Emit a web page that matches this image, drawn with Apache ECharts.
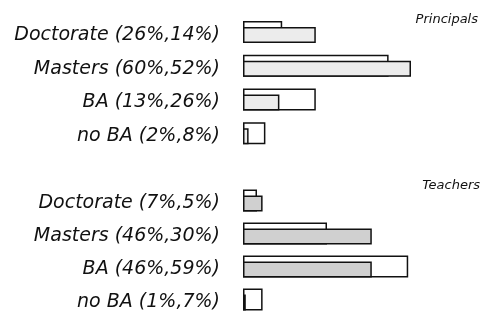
<!DOCTYPE html>
<html><head><meta charset="utf-8">
<script src="https://cdn.jsdelivr.net/npm/echarts@6/dist/echarts.min.js"></script>
<style>html,body{margin:0;padding:0;background:#fff}#c{width:501px;height:320px}</style>
</head><body><div id="c"></div>
<script>
const categories = ['Doctorate', 'Masters', 'BA', 'no BA'];
const principalsFirst = [26, 60, 13, 2];
const principalsSecond = [14, 52, 26, 8];
const teachersFirst = [7, 46, 46, 1];
const teachersSecond = [5, 30, 59, 7];
const panelTitles = ['Principals', 'Teachers'];

const FONT = '"DejaVu Sans"';
function labels(a, b) {
  return categories.map((c, i) => c + ' (' + a[i] + '%,' + b[i] + '%)');
}
const grids = [
  { left: 243, right: 34, top: 18, height: 135 },
  { left: 243, right: 34, top: 187, height: 132 }
];
const sets = [[principalsFirst, principalsSecond, '#ececec'], [teachersFirst, teachersSecond, '#d0d0d0']];
const xAxis = [], yAxis = [], series = [];
const WA = 16, WB = 22;
sets.forEach((s, k) => {
  xAxis.push({ gridIndex: k, type: 'value', min: 0, max: 80, show: false });
  yAxis.push({
    gridIndex: k, type: 'category', inverse: true, data: labels(s[0], s[1]),
    axisLine: { show: false }, axisTick: { show: false },
    axisLabel: { margin: 23, color: '#111', fontFamily: FONT, fontStyle: 'italic', fontSize: 19, padding: [0, 0, 8, 0] }
  });
  series.push({
    type: 'bar', xAxisIndex: k, yAxisIndex: k, data: s[0], barWidth: WA, barGap: (-100 * WB / WA) + '%', z: 3,
    itemStyle: { color: s[2], borderColor: '#111', borderWidth: 1.5 }, silent: true, animation: false
  });
  series.push({
    type: 'bar', xAxisIndex: k, yAxisIndex: k, data: s[1], barWidth: WB, barGap: (-100 * WB / WA) + '%', z: 2,
    itemStyle: { color: '#fff', borderColor: '#111', borderWidth: 1.5 }, silent: true, animation: false
  });
});
const chart = echarts.init(document.getElementById('c'), null, { renderer: 'canvas' });
const tStyle = { fontFamily: FONT, fontStyle: 'italic', fontWeight: 'normal', fontSize: 13, color: '#111' };
chart.setOption({
  animation: false,
  title: [
    { text: panelTitles[0], right: 18, top: 8, textStyle: tStyle },
    { text: panelTitles[1], right: 16, top: 174, textStyle: tStyle }
  ],
  grid: grids, xAxis: xAxis, yAxis: yAxis, series: series
});
</script></body></html>
